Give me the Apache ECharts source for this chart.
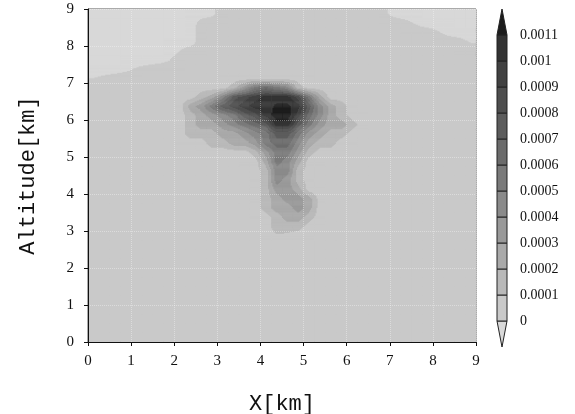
<!DOCTYPE html>
<html>
<head>
<meta charset="utf-8">
<script src="https://cdn.jsdelivr.net/npm/echarts/dist/echarts.min.js"></script>
<style>
html,body{margin:0;padding:0;background:#fff;}
#chart{width:575px;height:414px;}
</style>
</head>
<body>
<div id="chart"></div>
<script>
// ---- data (values in units of 0.0001; each cell value = band lower-bound estimate at the cell centre) ----
const xTickLabels = ['0','1','2','3','4','5','6','7','8','9'];
const yTickLabels = ['0','1','2','3','4','5','6','7','8','9'];
const colorbarLabels = ['0','0.0001','0.0002','0.0003','0.0004','0.0005','0.0006','0.0007','0.0008','0.0009','0.001','0.0011'];
const colorbarLevels = [0,1,2,3,4,5,6,7,8,9,10,11];
// colours: below 0, each band upwards, above 0.0011
const bandColors = ['#d8d8d8','#c9c9c9','#b9b9b9','#a9a9a9','#999999','#8a8a8a','#7a7a7a','#6b6b6b','#5c5c5c','#4e4e4e','#414141','#333333','#1c1c1c'];
const domainMax = 9;
const cellSize = 0.25;
// grid rows, top row (8.75-9 km) first, columns 0-0.25 km ... 8.75-9 km
const zRows = [
[-1,-1,-1,-1,-1,-1,-1,-1,-1,-1,-1,-0.72,0,0,0,0,0,0,0,0,0,0,0,0,0,0,0,-0.3,-0.88,-1,-1,-1,-1,-1,-1,-1],
[-1,-1,-1,-1,-1,-1,-1,-1,-1,-1,-0.12,0,0,0,0,0,0,0,0,0,0,0,0,0,0,0,0,0,0,-0.26,-0.64,-1,-1,-1,-1,-1],
[-1,-1,-1,-1,-1,-1,-1,-1,-1,-1,0,0,0,0,0,0,0,0,0,0,0,0,0,0,0,0,0,0,0,0,0,-0.04,-0.44,-0.84,-1,-1],
[-1,-1,-1,-1,-1,-1,-1,-1,-1,-1,0,0,0,0,0,0,0,0,0,0,0,0,0,0,0,0,0,0,0,0,0,0,0,0,-0.2,-0.6],
[-1,-1,-1,-1,-1,-1,-1,-1,-0.5,-0.08,0,0,0,0,0,0,0,0,0,0,0,0,0,0,0,0,0,0,0,0,0,0,0,0,0,0],
[-1,-1,-1,-1,-1,-1,-0.84,-0.56,0,0,0,0,0,0,0,0,0,0,0,0,0,0,0,0,0,0,0,0,0,0,0,0,0,0,0,0],
[-1,-1,-0.97,-0.69,-0.4,-0.12,0,0,0,0,0,0,0,0,0,0,0,0,0,0,0,0,0,0,0,0,0,0,0,0,0,0,0,0,0,0],
[-0.5,-0.25,0,0,0,0,0,0,0,0,0,0,0,0,0,0,0,0,0,0,0,0,0,0,0,0,0,0,0,0,0,0,0,0,0,0],
[0,0,0,0,0,0,0,0,0,0,0,0,0,1,3,5,6,5,4,1,0,0,0,0,0,0,0,0,0,0,0,0,0,0,0,0],
[0,0,0,0,0,0,0,0,0,0,1,2,4,7,8,9,10,10,10,8,5,2,0,0,0,0,0,0,0,0,0,0,0,0,0,0],
[0,0,0,0,0,0,0,0,0,2,3,5,7,8,9,10,10,10.7,10.7,10,7,4,2,1,0,0,0,0,0,0,0,0,0,0,0,0],
[0,0,0,0,0,0,0,0,0,1,2,3,4,5,7,8,10,11,11,9,6,4,2,1,0,0,0,0,0,0,0,0,0,0,0,0],
[0,0,0,0,0,0,0,0,0,1,2,2,3,4,5,6,7,10.2,10.2,7,5,3,2,2,1,0,0,0,0,0,0,0,0,0,0,0],
[0,0,0,0,0,0,0,0,0,1,1,1,2,2,3,4,5,7,7,5,3,2,1,1,0,0,0,0,0,0,0,0,0,0,0,0],
[0,0,0,0,0,0,0,0,0,0,0,1,1,2,2,3,5,6,6,4,2,1,1,0,0,0,0,0,0,0,0,0,0,0,0,0],
[0,0,0,0,0,0,0,0,0,0,0,0,0,0,0,1,3,5,5,3,1,0,0,0,0,0,0,0,0,0,0,0,0,0,0,0],
[0,0,0,0,0,0,0,0,0,0,0,0,0,0,0,0,2,5,4,2,0,0,0,0,0,0,0,0,0,0,0,0,0,0,0,0],
[0,0,0,0,0,0,0,0,0,0,0,0,0,0,0,0,1,4,4,1,0,0,0,0,0,0,0,0,0,0,0,0,0,0,0,0],
[0,0,0,0,0,0,0,0,0,0,0,0,0,0,0,0,1,4,3,1,0,0,0,0,0,0,0,0,0,0,0,0,0,0,0,0],
[0,0,0,0,0,0,0,0,0,0,0,0,0,0,0,0,1,3,3,2,0,0,0,0,0,0,0,0,0,0,0,0,0,0,0,0],
[0,0,0,0,0,0,0,0,0,0,0,0,0,0,0,0,1,2,3,3,2,0,0,0,0,0,0,0,0,0,0,0,0,0,0,0],
[0,0,0,0,0,0,0,0,0,0,0,0,0,0,0,0,1,2,2,3,2,0,0,0,0,0,0,0,0,0,0,0,0,0,0,0],
[0,0,0,0,0,0,0,0,0,0,0,0,0,0,0,0,0,1,2,2,1,0,0,0,0,0,0,0,0,0,0,0,0,0,0,0],
[0,0,0,0,0,0,0,0,0,0,0,0,0,0,0,0,0,1,1,1,0,0,0,0,0,0,0,0,0,0,0,0,0,0,0,0],
[0,0,0,0,0,0,0,0,0,0,0,0,0,0,0,0,0,0.4,0.3,0,0,0,0,0,0,0,0,0,0,0,0,0,0,0,0,0],
[0,0,0,0,0,0,0,0,0,0,0,0,0,0,0,0,0,0,0,0,0,0,0,0,0,0,0,0,0,0,0,0,0,0,0,0],
[0,0,0,0,0,0,0,0,0,0,0,0,0,0,0,0,0,0,0,0,0,0,0,0,0,0,0,0,0,0,0,0,0,0,0,0],
[0,0,0,0,0,0,0,0,0,0,0,0,0,0,0,0,0,0,0,0,0,0,0,0,0,0,0,0,0,0,0,0,0,0,0,0],
[0,0,0,0,0,0,0,0,0,0,0,0,0,0,0,0,0,0,0,0,0,0,0,0,0,0,0,0,0,0,0,0,0,0,0,0],
[0,0,0,0,0,0,0,0,0,0,0,0,0,0,0,0,0,0,0,0,0,0,0,0,0,0,0,0,0,0,0,0,0,0,0,0],
[0,0,0,0,0,0,0,0,0,0,0,0,0,0,0,0,0,0,0,0,0,0,0,0,0,0,0,0,0,0,0,0,0,0,0,0],
[0,0,0,0,0,0,0,0,0,0,0,0,0,0,0,0,0,0,0,0,0,0,0,0,0,0,0,0,0,0,0,0,0,0,0,0],
[0,0,0,0,0,0,0,0,0,0,0,0,0,0,0,0,0,0,0,0,0,0,0,0,0,0,0,0,0,0,0,0,0,0,0,0],
[0,0,0,0,0,0,0,0,0,0,0,0,0,0,0,0,0,0,0,0,0,0,0,0,0,0,0,0,0,0,0,0,0,0,0,0],
[0,0,0,0,0,0,0,0,0,0,0,0,0,0,0,0,0,0,0,0,0,0,0,0,0,0,0,0,0,0,0,0,0,0,0,0],
[0,0,0,0,0,0,0,0,0,0,0,0,0,0,0,0,0,0,0,0,0,0,0,0,0,0,0,0,0,0,0,0,0,0,0,0]
];

// ---- helpers ----
const nRows = zRows.length, nCols = zRows[0].length;
const bandMid = 0.5; // a cell value is sampled at value + 0.5 (middle of its band)
function nodeVal(r, c) {
  r = Math.max(0, Math.min(nRows - 1, r));
  c = Math.max(0, Math.min(nCols - 1, c));
  return zRows[r][c] + bandMid;
}
// contour-style sampling of the grid (bilinear between cell centres)
function field(x, y) {
  const fc = x / cellSize - 0.5, fr = (domainMax - y) / cellSize - 0.5;
  const c0 = Math.floor(fc), r0 = Math.floor(fr);
  const tc = fc - c0, tr = fr - r0;
  const v00 = nodeVal(r0, c0), v01 = nodeVal(r0, c0 + 1);
  const v10 = nodeVal(r0 + 1, c0), v11 = nodeVal(r0 + 1, c0 + 1);
  return (v00 * (1 - tc) + v01 * tc) * (1 - tr) + (v10 * (1 - tc) + v11 * tc) * tr;
}
function bandOf(v) {
  let b = 0;
  for (let i = 0; i < colorbarLevels.length; i++) { if (v >= colorbarLevels[i]) b = i + 1; }
  return b;
}

const cells = [];
zRows.forEach((row, r) => {
  row.forEach((v, c) => {
    cells.push([c * cellSize, domainMax - (r + 1) * cellSize, v, r, c]);
  });
});

const n = colorbarLevels.length;
const barBands = [];
for (let i = 0; i <= n; i++) {
  const lo = i === 0 ? colorbarLevels[0] - 1 : colorbarLevels[i - 1];
  const hi = i === n ? colorbarLevels[n - 1] + 1 : colorbarLevels[i];
  barBands.push([lo, hi, i]);
}

const SUB = 10;
function renderCell(params, api) {
  const x0 = api.value(0), y0 = api.value(1), r = api.value(3), c = api.value(4);
  const a = api.coord([x0, y0 + cellSize]);
  const b = api.coord([x0 + cellSize, y0]);
  const w = b[0] - a[0], h = b[1] - a[1];
  let mn = Infinity, mx = -Infinity;
  for (let dr = -1; dr <= 1; dr++) for (let dc = -1; dc <= 1; dc++) {
    const v = nodeVal(r + dr, c + dc); mn = Math.min(mn, v); mx = Math.max(mx, v);
  }
  if (bandOf(mn) === bandOf(mx)) {
    const col = bandColors[bandOf(mn)];
    return { type: 'rect', shape: { x: a[0], y: a[1], width: w + 0.4, height: h + 0.4 }, style: { fill: col } };
  }
  const children = [];
  const step = cellSize / SUB;
  for (let i = 0; i < SUB; i++) {
    const yy = y0 + cellSize - (i + 0.5) * step;
    let runStart = 0, runBand = bandOf(field(x0 + 0.5 * step, yy));
    for (let j = 1; j <= SUB; j++) {
      const bnd = j < SUB ? bandOf(field(x0 + (j + 0.5) * step, yy)) : -99;
      if (bnd !== runBand) {
        children.push({ type: 'rect',
          shape: { x: a[0] + runStart * w / SUB, y: a[1] + i * h / SUB, width: (j - runStart) * w / SUB + 0.4, height: h / SUB + 0.4 },
          style: { fill: bandColors[runBand] } });
        runStart = j; runBand = bnd;
      }
    }
  }
  return { type: 'group', children: children };
}

const serif = 'Liberation Serif';
const mono = 'Liberation Mono';
const chart = echarts.init(document.getElementById('chart'), null, { renderer: 'canvas' });
chart.setOption({
  animation: false,
  backgroundColor: '#ffffff',
  grid: [
    { left: 88, top: 9, width: 388, height: 333, show: true, backgroundColor: bandColors[1], borderColor: '#555', borderWidth: 1, containLabel: false, outerBoundsMode: 'none' },
    { left: 497, top: 9, width: 10, height: 338, show: false, containLabel: false, outerBoundsMode: 'none' }
  ],
  xAxis: [
    {
      gridIndex: 0, type: 'value', min: 0, max: 9, interval: 1, z: 5,
      name: 'X[km]', nameLocation: 'middle', nameGap: 51,
      nameTextStyle: { fontFamily: mono, fontSize: 22, color: '#111' },
      axisLine: { onZero: false, lineStyle: { color: '#111', width: 1 } },
      axisTick: { show: true, inside: false, length: 4, lineStyle: { color: '#111' } },
      axisLabel: { fontFamily: serif, fontSize: 15, color: '#111', margin: 12,
        formatter: v => xTickLabels[Math.round(v)] },
      splitLine: { show: true, lineStyle: { type: 'dotted', color: 'rgba(255,255,255,0.35)', width: 1 } }
    },
    { gridIndex: 1, type: 'value', min: 0, max: 1, show: false }
  ],
  yAxis: [
    {
      gridIndex: 0, type: 'value', min: 0, max: 9, interval: 1, z: 5,
      name: 'Altitude[km]', nameLocation: 'middle', nameGap: 49,
      nameTextStyle: { fontFamily: mono, fontSize: 22, color: '#111' },
      axisLine: { onZero: false, lineStyle: { color: '#111', width: 1 } },
      axisTick: { show: true, inside: false, length: 4, lineStyle: { color: '#111' } },
      axisLabel: { fontFamily: serif, fontSize: 15, color: '#111', margin: 14,
        formatter: v => yTickLabels[Math.round(v)] },
      splitLine: { show: true, lineStyle: { type: 'dotted', color: 'rgba(255,255,255,0.35)', width: 1 } }
    },
    {
      gridIndex: 1, type: 'value', position: 'right',
      min: colorbarLevels[0] - 1, max: colorbarLevels[n - 1] + 1, interval: 1,
      axisLine: { show: false }, axisTick: { show: false }, splitLine: { show: false },
      axisLabel: { fontFamily: serif, fontSize: 14, color: '#111', margin: 13,
        formatter: v => { const k = colorbarLevels.indexOf(Math.round(v)); return k >= 0 ? colorbarLabels[k] : ''; } }
    }
  ],
  series: [
    {
      type: 'custom', xAxisIndex: 0, yAxisIndex: 0, silent: true, clip: true,
      encode: { x: 0, y: 1 },
      data: cells,
      renderItem: renderCell
    },
    {
      type: 'custom', xAxisIndex: 1, yAxisIndex: 1, silent: true,
      encode: { y: [0, 1] },
      data: barBands,
      renderItem: (params, api) => {
        const lo = api.value(0), hi = api.value(1), idx = api.value(2);
        const pl = api.coord([0, lo]), pr = api.coord([1, lo]), ph = api.coord([0, hi]);
        const x0 = pl[0], x1 = pr[0], yLo = pl[1], yHi = ph[1];
        const style = { fill: bandColors[idx], stroke: '#222', lineWidth: 1 };
        if (idx === 0) {
          return { type: 'polygon', shape: { points: [[x0, yHi], [x1, yHi], [(x0 + x1) / 2, yLo]] }, style };
        }
        if (idx === n) {
          return { type: 'polygon', shape: { points: [[x0, yLo], [x1, yLo], [(x0 + x1) / 2, yHi]] }, style };
        }
        return { type: 'rect', shape: { x: x0, y: yHi, width: x1 - x0, height: yLo - yHi }, style };
      }
    }
  ]
});
</script>
</body>
</html>
